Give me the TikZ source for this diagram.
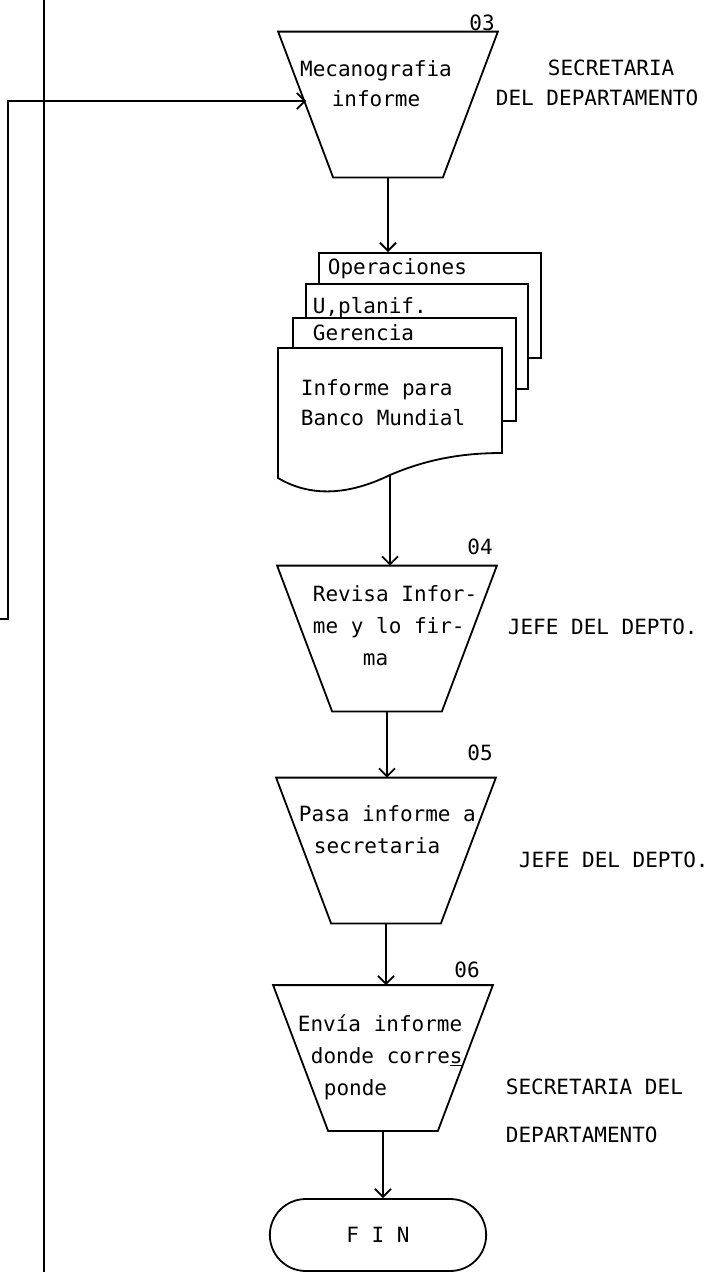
\documentclass[tikz,border=0pt]{standalone}
\usepackage{fontspec}
\setmainfont{DejaVu Sans Mono}
\usetikzlibrary{shapes.misc,arrows.meta}

\begin{document}
\begin{tikzpicture}[x=1pt, y=-1pt, line width=1.8pt,
    font=\fontsize{21}{32}\selectfont,
    proceso/.style={inner sep=0pt, minimum width=108pt, minimum height=144pt},
    hoja/.style={draw, fill=white, rectangle, anchor=north west, inner sep=0pt},
    texto/.style={anchor=north west, align=left, inner sep=0pt},
    etiqueta/.style={anchor=west, inner sep=0pt},
    flecha/.style={-{Straight Barb[length=8pt,width=16pt]}}]
    \useasboundingbox (0,0) rectangle (710,1272);

    % Lineas de la izquierda
    \coordinate (lt) at (44,0);
    \coordinate (lb) at (44,1272);
    \draw (lt) -- (lb);
    \coordinate (ret) at (0,619);

    % Cajas de proceso (trapecios)
    \node[proceso] (t03) at (388,104.5) {};
    \node[proceso] (t04) at (387,638.5) {};
    \node[proceso] (t05) at (386,850.5) {};
    \node[proceso] (t06) at (383,1058) {};
    \foreach \t in {t03,t04,t05,t06}
        \draw ([xshift=-55pt]\t.north west) -- ([xshift=55pt]\t.north east)
            -- (\t.south east) -- (\t.south west) -- cycle;

    % 03
    \node[texto, align=center, anchor=north] (x03) at (376,60) {Mecanografia\\[-2pt]informe};
    \node (n03) at (482,23) {03};
    \node[etiqueta] (r03a) at (547,68) {SECRETARIA};
    \node[etiqueta] (r03b) at (495,98) {DEL DEPARTAMENTO};

    % Documento con copias
    \node[hoja, minimum width=222pt, minimum height=105pt] (hop) at (318,252) {};
    \node[texto] (xop) at (327,258) {Operaciones};
    \node[hoja, minimum width=222pt, minimum height=105pt] (hpl) at (305,283) {};
    \node[texto] (xpl) at (312,297) {U,planif.};
    \node[hoja, minimum width=223pt, minimum height=103pt] (hge) at (292,317) {};
    \node[texto] (xge) at (312,324) {Gerencia};
    \draw[fill=white] (278,348) -- (502,348) -- (502,453)
        .. controls (460,453) and (425,460) .. (390,475)
        .. controls (355,492) and (315,500) .. (278,478) -- cycle;
    \coordinate (docsal) at (390,475);
    \node[texto] (xdoc) at (300,379) {Informe para\\[-2pt]Banco Mundial};

    % 04
    \node[texto] (x04) at (312,585) {Revisa Infor-\\me y lo fir-\\\hspace*{50pt}ma};
    \node (n04) at (480,547) {04};
    \node[etiqueta] (r04) at (507,627) {JEFE DEL DEPTO.};

    % 05
    \node[texto] (x05) at (298,805) {Pasa informe a\\\hspace*{15pt}secretaria};
    \node (n05) at (480,753) {05};
    \node[etiqueta] (r05) at (518,860) {JEFE DEL DEPTO.};

    % 06
    \node[texto] (x06) at (297,1014) {Envía informe\\\hspace*{13pt}donde corre\underline{s}\\\hspace*{26pt}ponde};
    \node (n06) at (467,970) {06};
    \node[etiqueta] (r06a) at (505,1087) {SECRETARIA DEL};
    \node[etiqueta] (r06b) at (505,1135) {DEPARTAMENTO};

    % FIN
    \node[draw, rounded rectangle, minimum width=223pt, minimum height=72pt] (fin) at (378,1235) {F I N};

    % Flechas
    \draw[flecha] (ret) -- (8,619) |- ([shift={(-27pt,3.5pt)}]t03.west);
    \draw[flecha] (t03.south) -- (t03.south |- hop.north);
    \draw[flecha] (docsal) -- (docsal |- t04.north);
    \draw[flecha] (t04.south) -- (t04.south |- t05.north);
    \draw[flecha] (t05.south) -- (t05.south |- t06.north);
    \draw[flecha] (t06.south) -- (t06.south |- fin.north);
\end{tikzpicture}
\end{document}
